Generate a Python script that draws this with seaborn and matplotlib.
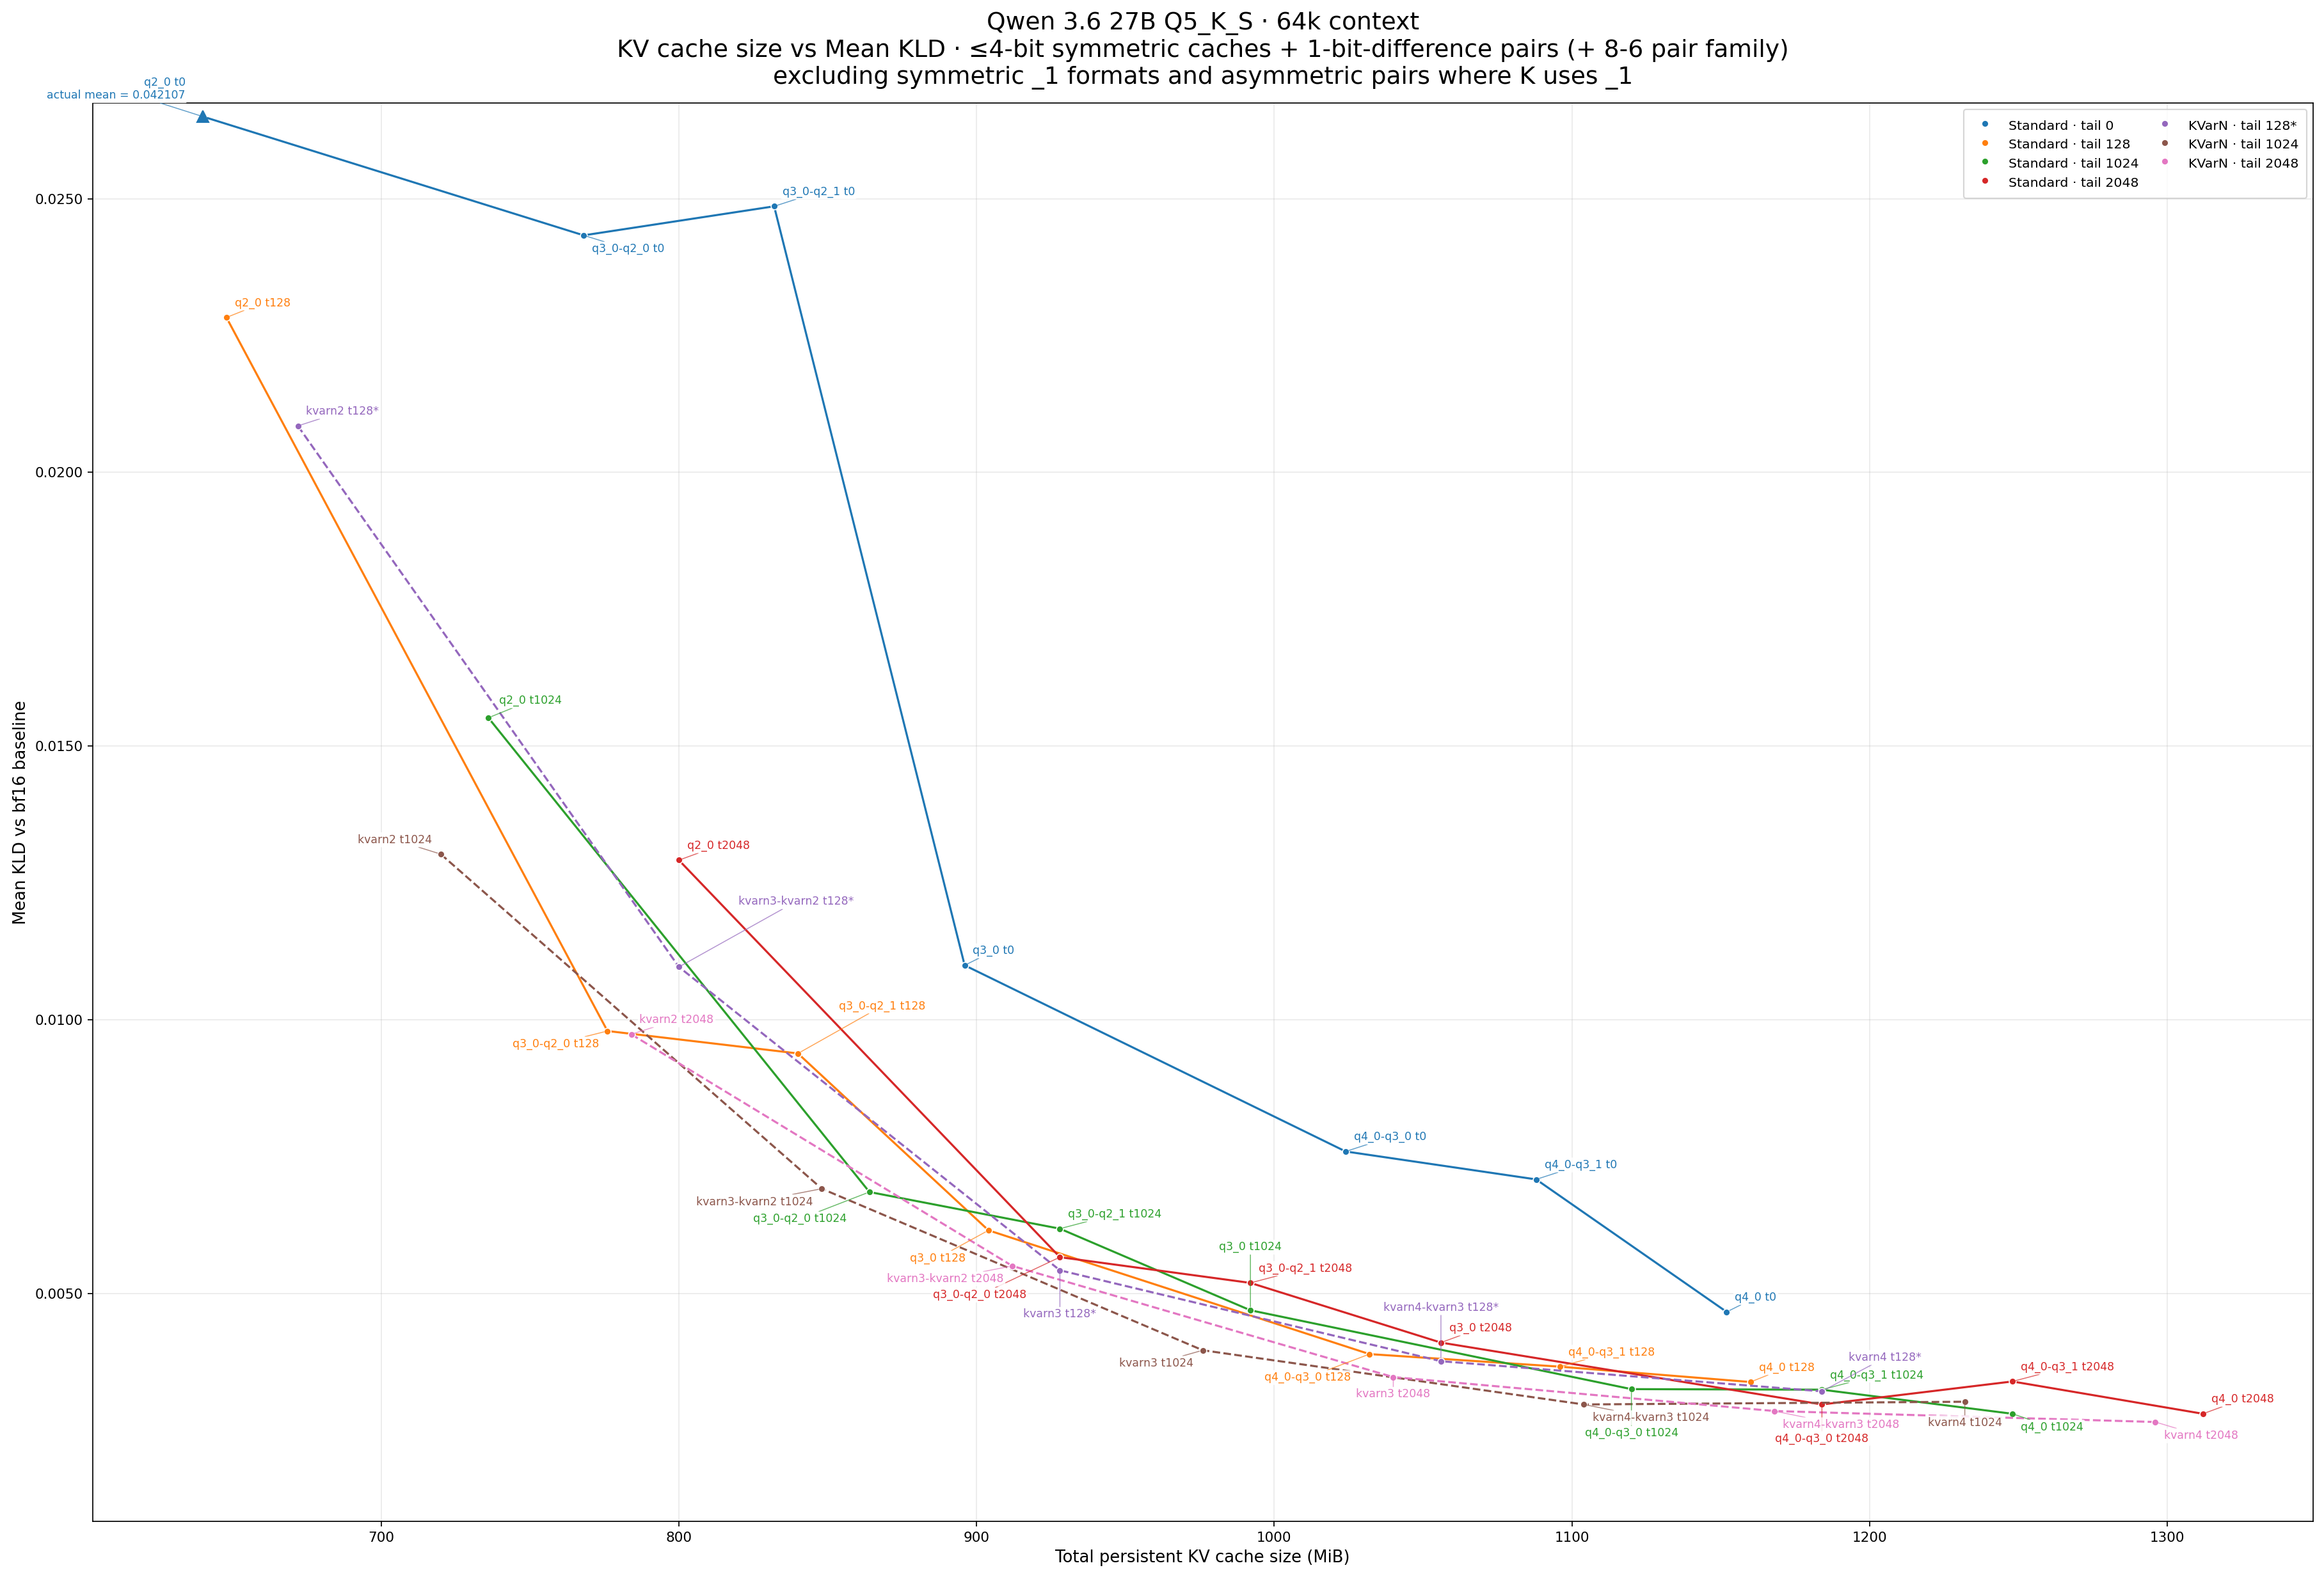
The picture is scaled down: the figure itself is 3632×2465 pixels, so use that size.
import numpy as np
import pandas as pd
import matplotlib
matplotlib.use("Agg")
import matplotlib.pyplot as plt
from matplotlib.lines import Line2D
from matplotlib.ticker import FormatStrFormatter
import seaborn as sns

# %% data (size in MiB, mean KLD vs bf16)
std_names = ["q2_0", "q3_0-q2_0", "q3_0-q2_1", "q3_0", "q4_0-q3_0", "q4_0-q3_1", "q4_0"]
std_size_t0 = [640, 768, 832, 896, 1024, 1088, 1152]
std_kld_t0 = [0.042107, 0.02433, 0.02486, 0.01100, 0.00760, 0.00709, 0.00467]
std_size_t128 = [648, 776, 840, 904, 1032, 1096, 1160]
std_kld_t128 = [0.02283, 0.00980, 0.00939, 0.00616, 0.00390, 0.00367, 0.00339]
std_size_t1024 = [736, 864, 928, 992, 1120, 1184, 1248]
std_kld_t1024 = [0.01552, 0.00686, 0.00619, 0.00470, 0.00326, 0.00325, 0.00281]
std_size_t2048 = [800, 928, 992, 1056, 1184, 1248, 1312]
std_kld_t2048 = [0.01292, 0.00567, 0.00520, 0.00411, 0.00298, 0.00340, 0.00281]

kvarn_names = ["kvarn2", "kvarn3-kvarn2", "kvarn3", "kvarn4-kvarn3", "kvarn4"]
kvarn_size_t128 = [672, 800, 928, 1056, 1184]
kvarn_kld_t128 = [0.02085, 0.01097, 0.00543, 0.00377, 0.00322]
kvarn_size_t1024 = [720, 848, 976, 1104, 1232]
kvarn_kld_t1024 = [0.01303, 0.00692, 0.00397, 0.00298, 0.00303]
kvarn_size_t2048 = [784, 912, 1040, 1168, 1296]
kvarn_kld_t2048 = [0.00974, 0.00551, 0.00348, 0.00286, 0.00266]

series_labels = ["Standard · tail 0", "Standard · tail 128", "Standard · tail 1024",
                 "Standard · tail 2048", "KVarN · tail 128*", "KVarN · tail 1024",
                 "KVarN · tail 2048"]
series_colors = ["#1f77b4", "#ff7f0e", "#2ca02c", "#d62728", "#9467bd", "#8c564b", "#e377c2"]

Y_CAP = 0.0265  # values above are drawn as a triangle at the cap

# %% label placement (offset points, ha); anything not listed uses DEFAULT_OFF
DEFAULT_OFF = (6, 10.5, "left")
LABEL_OFF = {
    "q2_0 t0": (-12.5, 20, "right"),
    "q3_0-q2_0 t0": (6, -10, "left"),
    "q3_0-q2_0 t128": (-6.2, -9.5, "right"),
    "q3_0-q2_1 t128": (29.6, 34.4, "left"),
    "q3_0 t128": (-16.6, -20.2, "right"),
    "q4_0-q3_0 t128": (-13.3, -17, "right"),
    "q2_0 t1024": (7.8, 12.4, "left"),
    "q3_0-q2_0 t1024": (-16.6, -19.6, "right"),
    "q3_0 t1024": (0, 45.8, "center"),
    "q4_0-q3_0 t1024": (0, -32, "center"),
    "q4_0 t1024": (6, -9.7, "left"),
    "q3_0-q2_0 t2048": (-24.3, -27.5, "right"),
    "q4_0-q3_0 t2048": (0, -24.9, "center"),
    "kvarn3-kvarn2 t128*": (43, 47.4, "left"),
    "kvarn3 t128*": (0, -32, "center"),
    "kvarn4-kvarn3 t128*": (0, 38.9, "center"),
    "kvarn4 t128*": (19.5, 24.5, "left"),
    "kvarn2 t1024": (-6.2, 10.4, "right"),
    "kvarn3-kvarn2 t1024": (-6.5, -9.5, "right"),
    "kvarn3 t1024": (-6.6, -9.5, "right"),
    "kvarn4-kvarn3 t1024": (6.2, -9.7, "left"),
    "kvarn4 t1024": (0, -15.3, "center"),
    "kvarn3-kvarn2 t2048": (-6.2, -9.5, "right"),
    "kvarn3 t2048": (0, -12.5, "center"),
    "kvarn4-kvarn3 t2048": (6.2, -10, "left"),
    "kvarn4 t2048": (6.2, -10, "left"),
}

# %% build long table
groups = [
    ("Standard", "t0", std_names, std_size_t0, std_kld_t0),
    ("Standard", "t128", std_names, std_size_t128, std_kld_t128),
    ("Standard", "t1024", std_names, std_size_t1024, std_kld_t1024),
    ("Standard", "t2048", std_names, std_size_t2048, std_kld_t2048),
    ("KVarN", "t128*", kvarn_names, kvarn_size_t128, kvarn_kld_t128),
    ("KVarN", "t1024", kvarn_names, kvarn_size_t1024, kvarn_kld_t1024),
    ("KVarN", "t2048", kvarn_names, kvarn_size_t2048, kvarn_kld_t2048),
]
rows = []
for (family, tag, names, sizes, klds), series in zip(groups, series_labels):
    for n, s, k in zip(names, sizes, klds):
        rows.append(dict(family=family, series=series, label=f"{n} {tag}", size=s, kld=k))
df = pd.DataFrame(rows)
df["kld_plot"] = df["kld"].clip(upper=Y_CAP)
palette = dict(zip(series_labels, series_colors))

# %% plot
DPI = 155
fig = plt.figure(figsize=(3632 / DPI, 2465 / DPI), dpi=DPI)
ax = fig.add_axes([0.0398, 0.0351, 0.9555, 0.8997])

sns.lineplot(data=df, x="size", y="kld_plot", hue="series", style="family",
             hue_order=series_labels, palette=palette,
             dashes={"Standard": "", "KVarN": (3.7, 1.6)},
             markers={"Standard": "o", "KVarN": "o"},
             markersize=5, linewidth=1.5, sort=False, estimator=None,
             legend=False, ax=ax)

capped = df[df["kld"] > Y_CAP]
for _, r in capped.iterrows():
    ax.plot(r["size"], r["kld_plot"], marker="^", ms=8.5, color=palette[r["series"]],
            mec=palette[r["series"]], zorder=4, linestyle="")

for _, r in df.iterrows():
    c = palette[r["series"]]
    text = r["label"]
    if r["kld"] > Y_CAP:
        text = f"{r['label']}\nactual mean = {r['kld']:.6f}"
    dx, dy, ha = LABEL_OFF.get(r["label"], DEFAULT_OFF)
    ax.annotate(text, xy=(r["size"], r["kld_plot"]), xytext=(dx, dy),
                textcoords="offset points", ha=ha, va="center", multialignment=ha,
                fontsize=8.1, color=c,
                bbox=dict(boxstyle="round,pad=0.15", fc="white", ec="none", alpha=0.85),
                arrowprops=dict(arrowstyle="-", color=c, lw=0.7, alpha=0.7,
                                shrinkA=0, shrinkB=2.5),
                zorder=5)

ax.set_xlim(603, 1349)
ax.set_ylim(0.00084, 0.02675)
ax.yaxis.set_major_formatter(FormatStrFormatter("%.4f"))
ax.grid(True, color="#b0b0b0", alpha=0.25, linewidth=0.8)
ax.set_axisbelow(True)
ax.tick_params(labelsize=10)
ax.set_xlabel("Total persistent KV cache size (MiB)", fontsize=12)
ax.set_ylabel("Mean KLD vs bf16 baseline", fontsize=12)
ax.set_title("Qwen 3.6 27B Q5_K_S · 64k context\n"
             "KV cache size vs Mean KLD · ≤4-bit symmetric caches + 1-bit-difference pairs (+ 8-6 pair family)\n"
             "excluding symmetric _1 formats and asymmetric pairs where K uses _1",
             fontsize=17.5, pad=14)

handles = [Line2D([], [], marker="o", linestyle="", color=c, mec="white", mew=0.75, ms=5)
           for c in series_colors]
ax.legend(handles, series_labels, ncol=2, loc="upper right", fontsize=9.5,
          borderpad=0.6, labelspacing=0.2, handleheight=1.55, columnspacing=1.0)

fig.savefig("out.png", dpi=DPI)
